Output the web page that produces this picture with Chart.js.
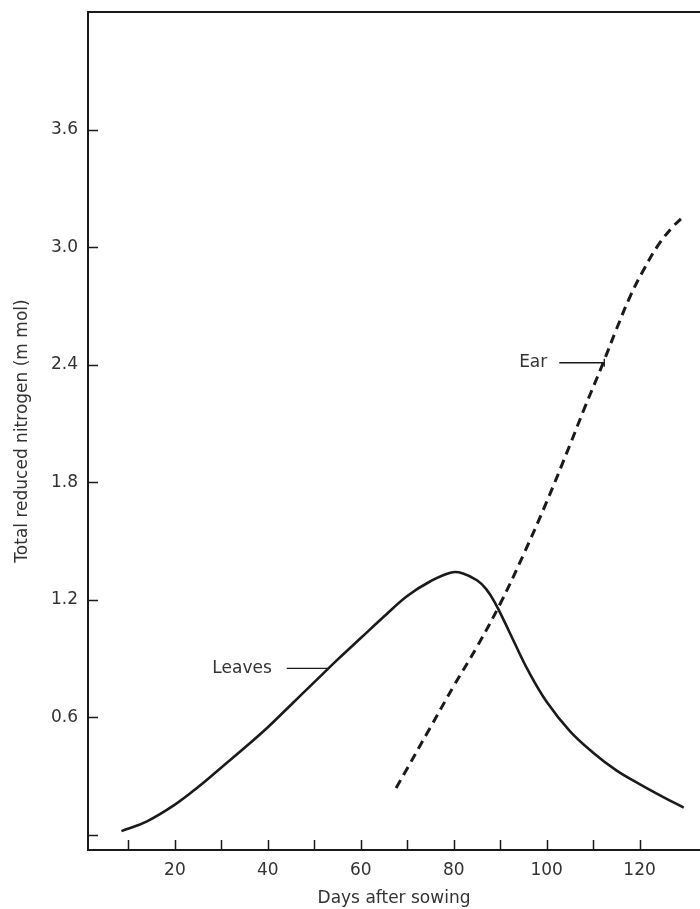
<!doctype html>
<html>
<head>
<meta charset="utf-8">
<script src="https://cdn.jsdelivr.net/npm/chart.js@4"></script>
</head>
<body style="margin:0;background:#fff;overflow:hidden;">
<canvas id="chart" width="700" height="909"></canvas>
<script>
// values
const leavesDays = [8.5, 14, 20, 25, 30, 35, 40, 45, 50, 55, 60, 65, 70, 75, 79.5, 82, 85, 87, 89, 91, 93, 96, 100, 105, 110, 115, 120, 125, 129.5];
const leavesN    = [0.02, 0.07, 0.155, 0.245, 0.345, 0.445, 0.55, 0.665, 0.78, 0.895, 1.005, 1.115, 1.22, 1.295, 1.34, 1.335, 1.30, 1.255, 1.18, 1.085, 0.985, 0.84, 0.68, 0.53, 0.42, 0.33, 0.26, 0.195, 0.14];
const earDays = [67.6, 70, 75, 80, 85, 90, 95, 100, 105, 108, 112, 115, 118, 121, 124, 127, 129.6];
const earN    = [0.24, 0.34, 0.55, 0.76, 0.96, 1.18, 1.43, 1.70, 1.99, 2.17, 2.40, 2.58, 2.75, 2.89, 3.01, 3.10, 3.16];

const xTicks = [10, 20, 30, 40, 50, 60, 70, 80, 90, 100, 110, 120];
const xLabels = [20, 40, 60, 80, 100, 120];
const yTicks = [0, 0.6, 1.2, 1.8, 2.4, 3.0, 3.6];
const yLabels = ['3.6', '3.0', '2.4', '1.8', '1.2', '0.6'];

const ink = '#1a1a1a';
const textInk = '#333';
const font = { family: 'DejaVu Sans', size: 17 };

const pts = (xs, ys) => xs.map((x, i) => ({ x: x, y: ys[i] }));

// callout labels: text, anchor point on the curve, leader length
const callouts = [
    { text: 'Leaves', x: 52.9, y: 0.85, len: 41, gap: 15, tick: false },
    { text: 'Ear', x: 112.4, y: 2.41, len: 45, gap: 12, tick: true }
];

const extras = {
    id: 'extras',
    afterDraw(chart) {
        const { ctx, chartArea: a, scales: { x, y } } = chart;
        ctx.save();
        ctx.strokeStyle = ink;
        ctx.lineWidth = 2;
        // top frame line
        ctx.beginPath();
        ctx.moveTo(a.left, a.top);
        ctx.lineTo(a.right, a.top);
        ctx.stroke();
        // inward tick marks
        ctx.lineWidth = 1.5;
        ctx.beginPath();
        x.ticks.forEach(t => {
            const px = Math.round(x.getPixelForValue(t.value)) + 0.5;
            ctx.moveTo(px, a.bottom);
            ctx.lineTo(px, a.bottom - 10);
        });
        y.ticks.forEach(t => {
            const py = Math.round(y.getPixelForValue(t.value)) + 0.5;
            ctx.moveTo(a.left, py);
            ctx.lineTo(a.left + 10, py);
        });
        ctx.stroke();
        // callouts
        ctx.font = font.size + 'px ' + font.family;
        ctx.fillStyle = textInk;
        ctx.textAlign = 'right';
        ctx.textBaseline = 'middle';
        ctx.lineWidth = 1.3;
        callouts.forEach(c => {
            const px = x.getPixelForValue(c.x);
            const py = y.getPixelForValue(c.y);
            ctx.beginPath();
            ctx.moveTo(px - c.len, py);
            ctx.lineTo(px, py);
            if (c.tick) {
                ctx.moveTo(px, py - 4);
                ctx.lineTo(px, py + 4);
            }
            ctx.stroke();
            ctx.fillText(c.text, px - c.len - c.gap, py);
        });
        ctx.restore();
    }
};

new Chart(document.getElementById('chart'), {
    type: 'line',
    data: {
        datasets: [{
            label: 'Leaves',
            data: pts(leavesDays, leavesN),
            borderColor: ink,
            borderWidth: 2.6,
            pointRadius: 0,
            tension: 0.4,
            fill: false
        }, {
            label: 'Ear',
            data: pts(earDays, earN),
            borderColor: ink,
            borderWidth: 3,
            borderDash: [9, 6],
            pointRadius: 0,
            tension: 0.4,
            fill: false
        }]
    },
    options: {
        responsive: false,
        animation: false,
        layout: { padding: { top: 12, right: 0, left: 0, bottom: 0 } },
        plugins: { legend: { display: false }, tooltip: { enabled: false } },
        scales: {
            x: {
                type: 'linear',
                min: 1.3,
                max: 133,
                afterBuildTicks: s => { s.ticks = xTicks.map(v => ({ value: v })); },
                afterFit: s => { s.height = 59; s.paddingLeft = 0; s.paddingRight = 0; },
                grid: { display: false, drawTicks: false },
                border: { display: true, color: ink, width: 2 },
                ticks: {
                    padding: 10,
                    color: textInk,
                    font: font,
                    maxRotation: 0,
                    autoSkip: false,
                    callback: v => xLabels.includes(v) ? String(v) : ''
                },
                title: { display: true, text: 'Days after sowing', color: textInk, font: font, padding: { top: 0, bottom: 0 } }
            },
            y: {
                min: -0.0765,
                max: 4.2,
                afterBuildTicks: s => { s.ticks = yTicks.map(v => ({ value: v })); },
                afterFit: s => { s.width = 88; s.paddingTop = 0; s.paddingBottom = 0; },
                grid: { display: false, drawTicks: false },
                border: { display: true, color: ink, width: 2 },
                ticks: {
                    padding: 10,
                    color: textInk,
                    font: font,
                    autoSkip: false,
                    callback: v => {
                        const s = v.toFixed(1);
                        return yLabels.includes(s) ? s : '';
                    }
                },
                title: { display: true, text: 'Total reduced nitrogen (m mol)', color: textInk, font: font, padding: { top: 12, bottom: 0 } }
            }
        }
    },
    plugins: [extras]
});
</script>
</body>
</html>
